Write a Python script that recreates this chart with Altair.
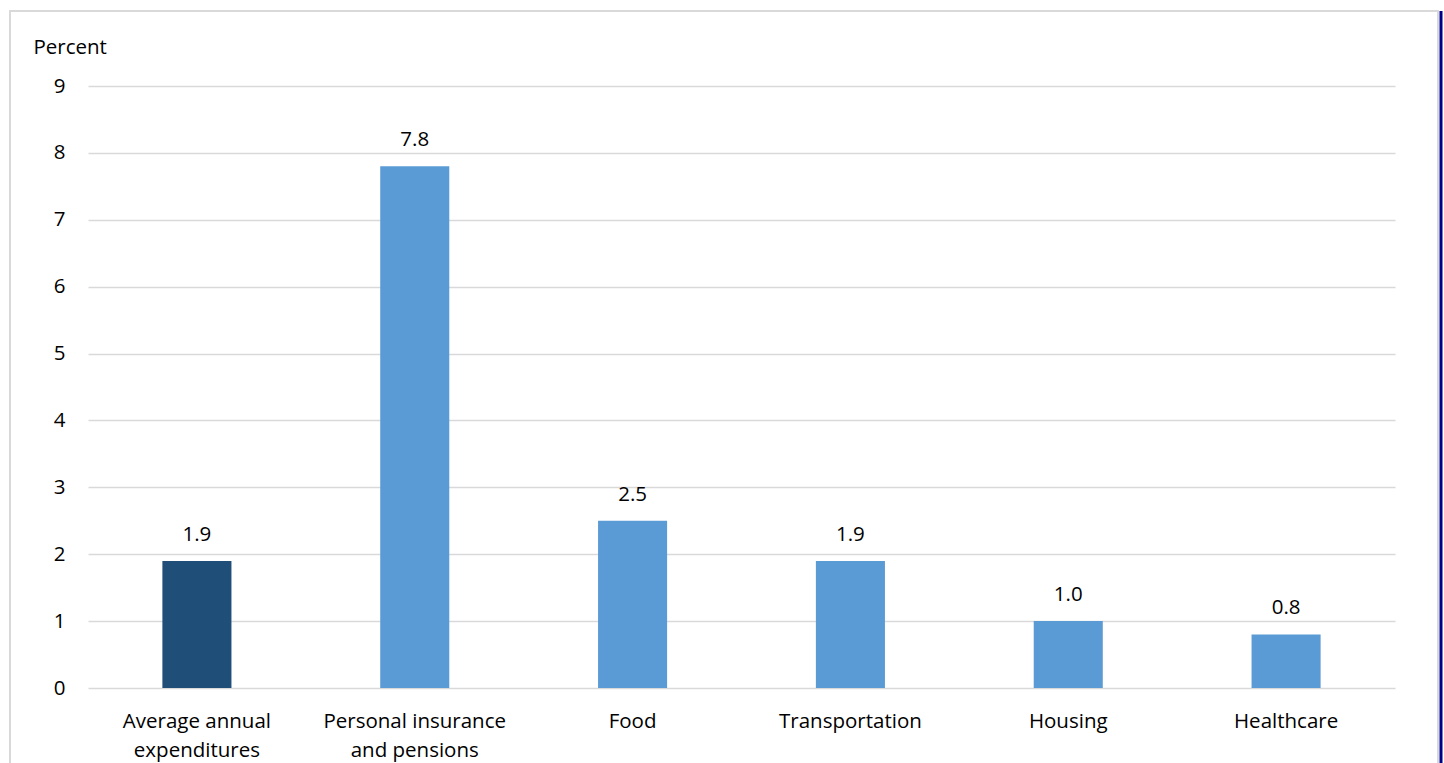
import altair as alt
import pandas as pd

categories = [
    "Average annual|expenditures",
    "Personal insurance|and pensions",
    "Food",
    "Transportation",
    "Housing",
    "Healthcare",
]
values = [1.9, 7.8, 2.5, 1.9, 1.0, 0.8]
colors = ["#1F4E79", "#5B9BD5", "#5B9BD5", "#5B9BD5", "#5B9BD5", "#5B9BD5"]
y_ticks = list(range(0, 10))

df = pd.DataFrame({"category": categories, "value": values, "color": colors})
df["label"] = df["value"].map(lambda v: f"{v:.1f}")

FONT = "Open Sans"
FS = 20.5
W, H = 1307, 602
LEFT, TOP = 88, 86

x_enc = alt.X(
    "category:N",
    sort=categories,
    scale=alt.Scale(paddingInner=0.683, paddingOuter=0.3415),
    axis=alt.Axis(
        title=None,
        labelAngle=0,
        labelExpr="split(datum.label, '|')",
        labelFontSize=FS,
        labelFont=FONT,
        labelColor="#000000",
        labelLineHeight=29,
        labelPadding=39,
        labelBaseline="alphabetic",
        labelLimit=400,
        labelOverlap=False,
        grid=False,
        domain=False,
        ticks=False,
    ),
)

y_enc = alt.Y(
    "value:Q",
    scale=alt.Scale(domain=[0, 9], nice=False),
    axis=alt.Axis(
        values=y_ticks,
        format="d",
        title="Percent",
        titleAngle=0,
        titleAlign="left",
        titleBaseline="alphabetic",
        titleX=-55,
        titleY=-33,
        titleFont=FONT,
        titleFontSize=FS,
        titleFontWeight="normal",
        titleColor="#000000",
        labelFont=FONT,
        labelFontSize=FS,
        labelColor="#000000",
        labelPadding=23,
        grid=True,
        gridColor="#D9D9D9",
        gridWidth=1.5,
        domain=False,
        ticks=False,
    ),
)

bars = alt.Chart(df).mark_bar().encode(
    x=x_enc,
    y=y_enc,
    color=alt.Color("color:N", scale=None),
)

labels = alt.Chart(df).mark_text(
    baseline="alphabetic", dy=-20, fontSize=FS, font=FONT, color="#000000"
).encode(
    x=alt.X("category:N", sort=categories),
    y=alt.Y("value:Q"),
    text="label:N",
)

# outer frame around the whole figure
frame = alt.Chart(pd.DataFrame({"k": [0]})).mark_rect(
    fill=None, stroke="#D9D9D9", strokeWidth=2, clip=False
).encode(
    x=alt.value(10 - LEFT),
    x2=alt.value(1438 - LEFT),
    y=alt.value(11 - TOP),
    y2=alt.value(800 - TOP),
)

edge = alt.Chart(pd.DataFrame({"k": [0]})).mark_rule(
    stroke="#00008B", strokeWidth=3, clip=False
).encode(
    x=alt.value(1441 - LEFT),
    y=alt.value(11 - TOP),
    y2=alt.value(800 - TOP),
)

chart = (
    alt.layer(frame, bars, labels, edge)
    .properties(
        width=W,
        height=H,
        background="#FFFFFF",
        autosize=alt.AutoSizeParams(type="none"),
        padding={"left": LEFT, "top": TOP, "right": 1444 - LEFT - W, "bottom": 763 - TOP - H},
    )
    .configure_view(strokeWidth=0)
)

chart.save("out.html", embed_options={"renderer": "svg", "actions": False})
